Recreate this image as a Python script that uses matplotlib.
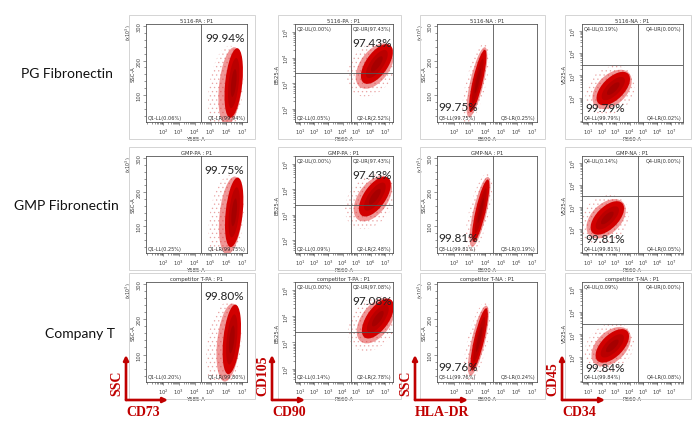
import matplotlib
matplotlib.use('Agg')
import matplotlib.pyplot as plt
from matplotlib.patches import Ellipse, Rectangle, FancyArrowPatch
from matplotlib.transforms import ScaledTranslation
from matplotlib.ticker import FixedLocator, FuncFormatter, MultipleLocator

W, H = 700, 431
plt.rcParams['hatch.linewidth'] = 0.5

# ---------------- data ----------------
row_labels = ['PG Fibronectin', 'GMP Fibronectin', 'Company T']
sample_names = [['5116-PA', '5116-PA', '5116-NA', '5116-NA'],
                ['GMP-PA', 'GMP-PA', 'GMP-NA', 'GMP-NA'],
                ['competitor T-PA', 'competitor T-PA', 'competitor T-NA', 'competitor T-NA']]
marker_x = ['CD73', 'CD90', 'HLA-DR', 'CD34']
marker_y = ['SSC', 'CD105', 'SSC', 'CD45']
channel_x = ['Y585-A', 'R660-A', 'B690-A', 'R660-A']
channel_y = ['SSC-A', 'B525-A', 'SSC-A', 'V525-A']
quad_names = [['LL', 'LR'], ['UL', 'UR', 'LL', 'LR'], ['LL', 'LR'], ['UL', 'UR', 'LL', 'LR']]
quad_prefix = ['Q1', 'Q2', 'Q3', 'Q4']
main_quad = ['LR', 'UR', 'LL', 'LL']
quad_values = [
    [[0.06, 99.94], [0.00, 97.43, 0.05, 2.52], [99.75, 0.25], [0.19, 0.00, 99.79, 0.02]],
    [[0.25, 99.75], [0.00, 97.43, 0.09, 2.48], [99.81, 0.19], [0.14, 0.00, 99.81, 0.05]],
    [[0.20, 99.80], [0.00, 97.08, 0.14, 2.78], [99.76, 0.24], [0.09, 0.00, 99.84, 0.08]],
]
# axis scales (x in log10 decades, y linear SSC x10^3 or log10 decades)
x_lims = [(0.92, 7.3), (0.65, 7.56), (0.92, 7.3), (0.56, 7.86)]
x_ticks = [[2, 3, 4, 5, 6, 7], [1, 2, 3, 4, 5, 6, 7], [2, 3, 4, 5, 6, 7], [1, 2, 3, 4, 5, 6, 7]]
y_log = [False, True, False, True]
y_lims = [(22, 306), (1.49, 5.31), (22, 306), (0.9, 5.3)]
y_ticks = [[100, 200, 300], [2, 3, 4, 5], [100, 200, 300], [2, 3, 4, 5]]
gate_x = [4.4, 4.6, 4.5, 4.6]
gate_y = [None, 3.4, None, 3.47]
# cell cloud centres (data units)
cloud_x = [[6.46, 6.42, 3.52, 2.82], [6.49, 6.28, 3.71, 2.39], [6.34, 6.49, 3.61, 2.75]]
cloud_y = [[135, 3.75, 141, 2.40], [141, 3.71, 146, 2.49], [143, 3.91, 143, 2.49]]

# ---------------- layout / style ----------------
cols_px = [(146, 247), (295, 393), (437, 537), (582, 683)]
rows_px = [(25, 123), (157, 254), (283, 383)]
cloud_len = [70, 46, 64, 42]
cloud_wid = [17, 22, 10, 22]
cloud_ang = [84, 55, 77, 45]
halo_off = [(-8, -8), (-5, -5), (-2, -3), (-3, -2)]
pct_pos = [(0.975, 0.92, 'right', 'top'), (0.985, 0.87, 'right', 'top'),
           (0.01, 0.10, 'left', 'bottom'), (0.03, 0.09, 'left', 'bottom')]
row_label_xy = [(67, 74), (66, 206), (80, 334)]
arrow_x0 = [126, 272, 415, 562]
arrow_x1 = [168, 305, 468, 605]
RED = '#c00000'
UI = 'Lato'

fig = plt.figure(figsize=(W / 100, H / 100), dpi=100)
fig.patch.set_facecolor('white')


def fx(px):
    return px / W


def fy(py):
    return 1 - py / H


def log_fmt(v, pos):
    return r'$10^{%d}$' % round(v)


def draw_cloud(ax, cx, cy, L, Wd, ang, off):
    base = fig.dpi_scale_trans + ScaledTranslation(cx, cy, ax.transData)
    # sparse speckled events around the main population
    e = Ellipse((off[0] / 100, off[1] / 100), L * 1.3 / 100, Wd * 2.0 / 100, angle=ang,
                transform=base, facecolor='none', edgecolor='#d03a3a', lw=0,
                hatch='....', alpha=0.35)
    ax.add_patch(e)
    layers = [((off[0] * 0.4, off[1] * 0.4), 1.12, 1.35, '#e03030', 0.5),
              ((0, 0), 1.0, 1.0, '#d20000', 1.0),
              ((0, 0), 0.72, 0.6, '#b80000', 0.9),
              ((0, 0), 0.4, 0.3, '#9a0000', 0.6)]
    for (dx, dy), sl, sw, c, a in layers:
        e = Ellipse((dx / 100, dy / 100), L * sl / 100, Wd * sw / 100, angle=ang,
                    transform=base, facecolor=c, edgecolor='none', alpha=a)
        ax.add_patch(e)


for r in range(3):
    for c in range(4):
        x0, x1 = cols_px[c]
        y0, y1 = rows_px[r]
        ax = fig.add_axes([fx(x0), fy(y1), fx(x1 - x0), (y1 - y0) / H])
        # outer panel frame
        fig.add_artist(Rectangle((fx(x0 - 17), fy(y1 + 17)), fx(x1 - x0 + 25), (y1 - y0 + 26) / H,
                                 transform=fig.transFigure, fill=False, ec='#d4d4d4', lw=0.7))
        ax.set_xlim(*x_lims[c])
        ax.set_ylim(*y_lims[c])
        ax.xaxis.set_major_locator(FixedLocator(x_ticks[c]))
        ax.xaxis.set_major_formatter(FuncFormatter(log_fmt))
        minors = [t + d for t in range(0, 9) for d in (0.301, 0.477, 0.602, 0.699, 0.778, 0.845, 0.903, 0.954)]
        ax.xaxis.set_minor_locator(FixedLocator(minors))
        ax.yaxis.set_major_locator(FixedLocator(y_ticks[c]))
        if y_log[c]:
            ax.yaxis.set_major_formatter(FuncFormatter(log_fmt))
            ax.yaxis.set_minor_locator(FixedLocator(minors))
        else:
            ax.yaxis.set_minor_locator(MultipleLocator(20))
            ax.text(-0.165, 1.0, r'(x10$^{3}$)', transform=ax.transAxes, rotation=90,
                    fontsize=3.4, ha='center', va='top', color='#333333')
        ax.tick_params(which='both', direction='out', length=1.5, width=0.4, colors='#444444',
                       labelsize=3.8, pad=1)
        ax.tick_params(which='major', length=2.2)
        ax.tick_params(axis='y', labelrotation=90)
        for lab in ax.get_yticklabels():
            lab.set_va('center')
        for s in ax.spines.values():
            s.set_color('#555555')
            s.set_linewidth(0.6)
        ax.set_xlabel(channel_x[c], fontsize=3.8, labelpad=0.5, color='#333333')
        ax.set_ylabel(channel_y[c], fontsize=3.8, labelpad=1, color='#333333')
        ax.set_title(sample_names[r][c] + ' : P1', fontsize=3.8, pad=1.5, color='#333333')

        draw_cloud(ax, cloud_x[r][c], cloud_y[r][c], cloud_len[c], cloud_wid[c], cloud_ang[c], halo_off[c])

        ax.axvline(gate_x[c], color='#555555', lw=0.6)
        if gate_y[c] is not None:
            ax.axhline(gate_y[c], color='#555555', lw=0.6)

        pos = {'UL': (0.02, 0.975, 'left', 'top'), 'UR': (0.985, 0.975, 'right', 'top'),
               'LL': (0.02, 0.025, 'left', 'bottom'), 'LR': (0.985, 0.025, 'right', 'bottom')}
        for q, v in zip(quad_names[c], quad_values[r][c]):
            px_, py_, ha, va = pos[q]
            ax.text(px_, py_, '%s-%s(%.2f%%)' % (quad_prefix[c], q, v), transform=ax.transAxes,
                    fontsize=3.6, ha=ha, va=va, color='#333333')
        mv = quad_values[r][c][quad_names[c].index(main_quad[c])]
        tx, ty, ha, va = pct_pos[c]
        ax.text(tx, ty, '%.2f%%' % mv, transform=ax.transAxes, fontsize=8.5, ha=ha, va=va,
                color='#222222', family=UI)

# row labels
for lab, (xx, yy) in zip(row_labels, row_label_xy):
    fig.text(fx(xx), fy(yy), lab, fontsize=10, ha='center', va='center', family=UI, color='#111111')

# marker arrows
for c in range(4):
    ox = arrow_x0[c]
    fig.add_artist(FancyArrowPatch((fx(ox), fy(401)), (fx(ox), fy(356)), transform=fig.transFigure,
                                   arrowstyle='-|>', mutation_scale=7, lw=1.9, color=RED,
                                   shrinkA=0, shrinkB=0))
    fig.add_artist(FancyArrowPatch((fx(ox), fy(401)), (fx(arrow_x1[c]), fy(401)), transform=fig.transFigure,
                                   arrowstyle='-|>', mutation_scale=7, lw=1.9, color=RED,
                                   shrinkA=0, shrinkB=0))
    fig.text(fx(ox - 9), fy(396), marker_y[c], rotation=90, ha='center', va='bottom',
             fontsize=10, fontweight='bold', family='Liberation Serif', color=RED)
    fig.text(fx(ox), fy(413), marker_x[c], ha='left', va='center',
             fontsize=10, fontweight='bold', family='Liberation Serif', color=RED)

fig.savefig('out.png', dpi=100)
